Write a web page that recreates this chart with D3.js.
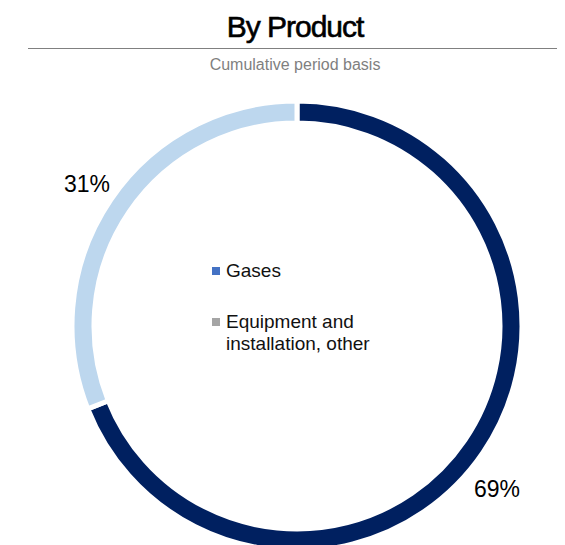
<!DOCTYPE html>
<html>
<head>
    <script src="https://d3js.org/d3.v7.min.js"></script>
    <style>
        body { margin: 0; background: #fff; }
        text { font-family: Arial, "Liberation Sans", sans-serif; }
    </style>
</head>
<body>
    <div id="chart"></div>
    <script>
        // data
        const categories = ["Gases", "Equipment and installation, other"];
        const values = [69, 31];
        const pctLabels = ["69%", "31%"];
        const sliceColors = ["#002060", "#BDD7EE"];
        const legendColors = ["#4472C4", "#A5A5A5"];

        const width = 565, height = 545;
        const cx = 297, cy = 326, outerR = 225, innerR = 203;

        const svg = d3.select("#chart")
            .append("svg")
            .attr("width", width)
            .attr("height", height);

        // title + rule + subtitle
        svg.append("text")
            .attr("x", 295).attr("y", 37)
            .attr("text-anchor", "middle")
            .style("font-size", "30px")
            .style("letter-spacing", "-1px")
            .attr("stroke", "#000")
            .attr("stroke-width", 0.6)
            .text("By Product");

        svg.append("line")
            .attr("x1", 28).attr("x2", 557)
            .attr("y1", 48.5).attr("y2", 48.5)
            .attr("stroke", "#808080")
            .attr("stroke-width", 1.2);

        svg.append("text")
            .attr("x", 295).attr("y", 70)
            .attr("text-anchor", "middle")
            .attr("fill", "#7f7f7f")
            .style("font-size", "16px")
            .text("Cumulative period basis");

        // donut
        const pie = d3.pie().sort(null).value(d => d);
        const arc = d3.arc().innerRadius(innerR).outerRadius(outerR);
        const arcs = pie(values);

        const g = svg.append("g").attr("transform", `translate(${cx},${cy})`);
        g.selectAll("path")
            .data(arcs)
            .join("path")
            .attr("d", arc)
            .attr("fill", (d, i) => sliceColors[i])
            .attr("stroke", "#fff")
            .attr("stroke-width", 5);

        // percentage labels
        const labelPos = [[497, 497], [87, 192]];
        svg.selectAll(".pct")
            .data(pctLabels)
            .join("text")
            .attr("class", "pct")
            .attr("x", (d, i) => labelPos[i][0])
            .attr("y", (d, i) => labelPos[i][1])
            .attr("text-anchor", "middle")
            .style("font-size", "23px")
            .text(d => d);

        // legend
        const legend = svg.append("g").attr("transform", "translate(212,0)");
        const legendRows = [["Gases"], ["Equipment and", "installation, other"]];
        const legendY = [277, 328];
        legendRows.forEach((lines, i) => {
            legend.append("rect")
                .attr("x", 0).attr("y", legendY[i] - 10)
                .attr("width", 8).attr("height", 8)
                .attr("fill", legendColors[i]);
            const t = legend.append("text")
                .attr("x", 14).attr("y", legendY[i])
                .style("font-size", "19px")
                .attr("fill", "#111");
            lines.forEach((l, j) => {
                t.append("tspan").attr("x", 14).attr("dy", j === 0 ? 0 : 22).text(l);
            });
        });
    </script>
</body>
</html>
